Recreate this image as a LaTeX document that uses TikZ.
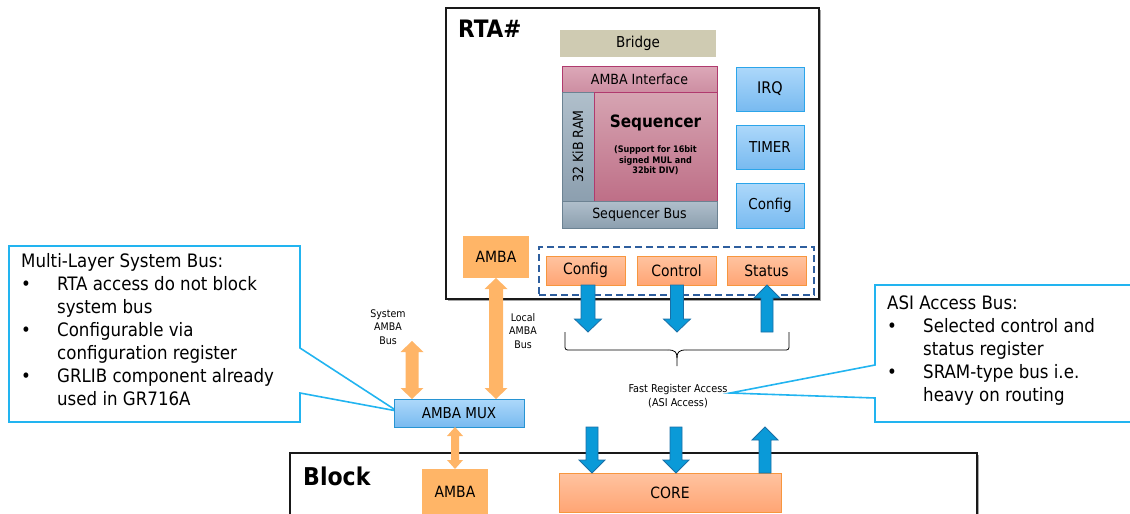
\documentclass[tikz,border=0pt]{standalone}
\usepackage{fontspec}
\setmainfont{DejaVu Sans Condensed}[BoldFont={DejaVu Sans Condensed Bold}]
\usetikzlibrary{calc}

\definecolor{bridgec}{HTML}{CFCBB2}
\definecolor{pinkT}{HTML}{DCA8B8}
\definecolor{pinkB}{HTML}{CD8EA2}
\definecolor{seqT}{HTML}{D6A4B2}
\definecolor{seqB}{HTML}{BE6F87}
\definecolor{magD}{HTML}{B03A6E}
\definecolor{grayT}{HTML}{B0BFCB}
\definecolor{grayB}{HTML}{8C9FAF}
\definecolor{grayD}{HTML}{6C8292}
\definecolor{blueT}{HTML}{ADD8FA}
\definecolor{blueB}{HTML}{78BAF0}
\definecolor{blueD}{HTML}{2BA5EA}
\definecolor{orT}{HTML}{FFC3A0}
\definecolor{orB}{HTML}{FFA574}
\definecolor{orD}{HTML}{F7963E}
\definecolor{ambac}{HTML}{FFB567}
\definecolor{flowc}{HTML}{0A9AD8}
\definecolor{flowd}{HTML}{1A6FA6}
\definecolor{dashc}{HTML}{2E5E9E}
\definecolor{callc}{HTML}{22B4F0}

\newcommand\fs[2]{\fontsize{#1}{#2}\selectfont}

% vertical block arrow: style, tail, tip, shaft half width, head half width, head length
\newcommand\blockarrow[6]{%
  \path[#1] let \p1=(#2), \p2=(#3), \n1={ifthenelse(\y2>\y1,1,-1)*#6} in
    ({\x1-#4},\y1) -- ({\x1-#4},{\y2-\n1}) -- ({\x1-#5},{\y2-\n1}) -- (\x1,\y2)
    -- ({\x1+#5},{\y2-\n1}) -- ({\x1+#4},{\y2-\n1}) -- ({\x1+#4},\y1) -- cycle;}
% vertical double-headed block arrow: style, end 1, end 2, shaft half width, head half width, head length
\newcommand\dblarrow[6]{%
  \path[#1] let \p1=(#2), \p2=(#3), \n1={ifthenelse(\y2>\y1,1,-1)*#6} in
    (\x1,\y1) -- ({\x1+#5},{\y1+\n1}) -- ({\x1+#4},{\y1+\n1}) -- ({\x1+#4},{\y2-\n1})
    -- ({\x1+#5},{\y2-\n1}) -- (\x1,\y2) -- ({\x1-#5},{\y2-\n1}) -- ({\x1-#4},{\y2-\n1})
    -- ({\x1-#4},{\y1+\n1}) -- ({\x1-#5},{\y1+\n1}) -- cycle;}

\tikzset{
  blk/.style={anchor=north west, inner sep=0pt, outer sep=0pt, align=center},
  frame/.style={blk, draw=black!90, line width=1.6pt},
  frameshadow/.style={draw=black!35, line width=1.2pt},
  bridgebox/.style={blk, fill=bridgec, font=\fs{15}{18}},
  pinkbox/.style={blk, draw=magD, line width=0.9pt, top color=pinkT, bottom color=pinkB, font=\fs{14}{17}},
  seqbox/.style={blk, draw=magD, line width=0.9pt, top color=seqT, bottom color=seqB},
  graybox/.style={blk, draw=grayD, line width=0.9pt, top color=grayT, bottom color=grayB, font=\fs{14}{17}},
  bluebox/.style={blk, draw=blueD, line width=1pt, top color=blueT, bottom color=blueB, font=\fs{15}{18}},
  regbox/.style={blk, draw=orD, line width=1pt, top color=orT, bottom color=orB, font=\fs{15.5}{18}},
  ambabox/.style={blk, fill=ambac, font=\fs{15.5}{18}},
  flow/.style={fill=flowc, draw=flowd, line width=0.8pt},
  busflow/.style={fill=ambac},
  callout/.style={draw=callc, line width=1.6pt, line join=miter},
  calltext/.style={anchor=north west, inner sep=0pt, align=left, font=\fs{18.5}{23}},
  smalltext/.style={inner sep=0pt, align=center, font=\fs{10.5}{13.5}},
}

\begin{document}
\begin{tikzpicture}[x=1pt, y=-1pt]
\useasboundingbox (0,0) rectangle (1130,514);

% ---------- callouts ----------
\draw[callout] (9,246) -- (300,246) -- (300,348) -- (397,411) -- (300,393)
  -- (300,422) -- (9,422) -- cycle;
\node[calltext] (sysnote) at (21,253) {Multi-Layer System Bus:\\
  \makebox[36pt][l]{•}RTA access do not block\\
  \hspace*{36pt}system bus\\
  \makebox[36pt][l]{•}Configurable via\\
  \hspace*{36pt}configuration register\\
  \makebox[36pt][l]{•}GRLIB component already\\
  \hspace*{36pt}used in GR716A};

\draw[callout] (1140,285) -- (875,285) -- (875,365) -- (730,393) -- (875,398)
  -- (875,422) -- (1140,422);
\node[calltext] (asinote) at (887,295.5) {ASI Access Bus:\\
  \makebox[36pt][l]{•}Selected control and\\
  \hspace*{36pt}status register\\
  \makebox[36pt][l]{•}SRAM-type bus i.e.\\
  \hspace*{36pt}heavy on routing};

% ---------- RTA unit ----------
\node[frame, minimum width=373, minimum height=291] (rta) at (446,8) {};
\draw[frameshadow] ([shift={(1.6,2)}]rta.north east) -- ([shift={(1.6,1.6)}]rta.south east)
  -- ([shift={(2,1.6)}]rta.south west);
\node[anchor=base west, inner sep=0pt, font=\bfseries\fs{24}{24}] (rtaname) at (458,37.3) {RTA\#};

\node[bridgebox, minimum width=156, minimum height=27] (bridge) at (560,30) {Bridge};
\node[pinkbox, minimum width=155, minimum height=26] (ambaif) at (562,66) {AMBA Interface};
\node[graybox, minimum width=32, minimum height=109] (ram) at (562,92) {};
\node[inner sep=0pt, rotate=90, font=\fs{14}{17}] (ramlabel) at (ram.center) {32 KiB RAM};
\node[seqbox, minimum width=123, minimum height=109] (seq) at (594,92) {};
\node[anchor=base, inner sep=0pt, font=\bfseries\fs{17}{20}] (seqname) at (655.5,127) {Sequencer};
\node[anchor=north, inner sep=0pt, align=center, font=\bfseries\fs{9}{10.5}] (seqnote) at (655.5,145.5)
  {(Support for 16bit\\signed MUL and\\32bit DIV)};
\node[graybox, minimum width=155, minimum height=27] (seqbus) at (562,201) {Sequencer Bus};

\node[bluebox, minimum width=68, minimum height=44] (irq) at (736,67) {\fs{16}{18}IRQ};
\node[bluebox, minimum width=68, minimum height=44] (timer) at (736,125) {TIMER};
\node[bluebox, minimum width=68, minimum height=45] (cfgr) at (736,183) {Config};

\node[ambabox, minimum width=66, minimum height=42] (ambatop) at (463,236) {AMBA};

\node[regbox, minimum width=79, minimum height=29] (config) at (546,256) {Config};
\node[regbox, minimum width=79, minimum height=29] (control) at (637,256) {Control};
\node[regbox, minimum width=79, minimum height=29] (status) at (727,256) {Status};
\node[blk, draw=dashc, line width=2pt, dash pattern=on 7pt off 4pt,
  minimum width=275, minimum height=48] (regs) at (539,247) {};

% ---------- bus multiplexer ----------
\node[bluebox, draw=blueD!90!black, minimum width=130, minimum height=28] (mux) at (394,399) {AMBA MUX};

% ---------- block ----------
\node[frame, minimum width=687, minimum height=100] (block) at (290,453) {};
\draw[frameshadow] ([shift={(1.6,2)}]block.north east) -- ([shift={(1.6,0)}]block.south east);
\node[anchor=base west, inner sep=0pt, font=\bfseries\fs{24.5}{25}] (blockname) at (303,485) {Block};
\node[ambabox, minimum width=66, minimum height=60] (ambalow) at (422,469) {};
\node[inner sep=0pt, font=\fs{15.5}{18}] (ambalowlabel) at (455,492) {AMBA};
\node[regbox, minimum width=222, minimum height=39] (core) at (559,473) {CORE};

% ---------- AMBA buses ----------
\coordinate (sysbus) at (412,341);
\dblarrow{busflow}{sysbus}{sysbus |- mux.north}{6.5}{11.5}{11}
\dblarrow{busflow}{ambatop.south}{ambatop.south |- mux.north}{7}{11.5}{11}
\dblarrow{busflow}{mux.south -| ambalow.north}{ambalow.north}{4}{8}{9}
\node[smalltext] (syslabel) at (388,327) {System\\AMBA\\Bus};
\node[smalltext] (loclabel) at (523,331) {Local\\AMBA\\Bus};

% ---------- register access ----------
\coordinate (fo1) at (588,332);
\coordinate (fo2) at (677,332);
\coordinate (fi3) at (767,332);
\blockarrow{flow}{config.south -| fo1}{fo1}{7}{13.5}{13}
\blockarrow{flow}{control.south -| fo2}{fo2}{6.5}{13.5}{13}
\blockarrow{flow}{fi3}{status.south -| fi3}{6}{13}{13}

\draw[line width=0.8pt, rounded corners=2.5pt] (565,332) -- (565,350) -- (668,350);
\draw[line width=0.8pt, rounded corners=2.5pt] (789,332) -- (789,350) -- (686,350);
\draw[line width=0.8pt] (668,350) .. controls (675,350) and (677,352) .. (677,358) -- (677,366);
\draw[line width=0.8pt] (686,350) .. controls (679,350) and (677,352) .. (677,358);
\node[smalltext, font=\fs{10.8}{14}] (fastlabel) at (678,396) {Fast Register Access\\(ASI Access)};

\coordinate (ci1) at (592,427);
\coordinate (ci2) at (676,427);
\coordinate (co3) at (765,427);
\blockarrow{flow}{ci1}{ci1 |- core.north}{6}{13}{13}
\blockarrow{flow}{ci2}{ci2 |- core.north}{6}{13}{13}
\blockarrow{flow}{co3 |- core.north}{co3}{6}{13}{13}
\end{tikzpicture}
\end{document}
